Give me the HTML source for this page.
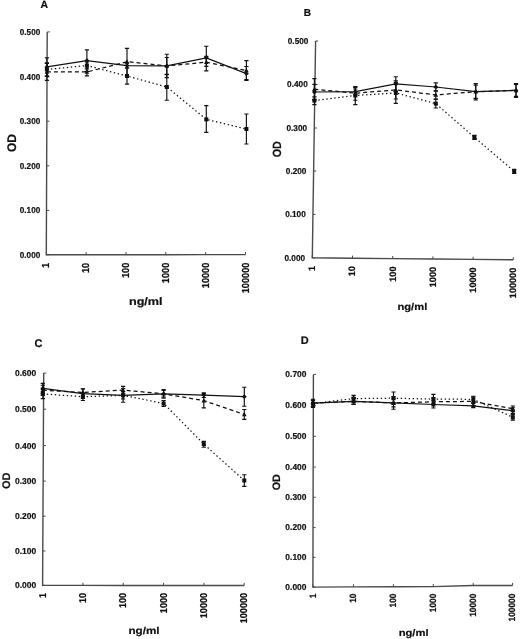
<!DOCTYPE html>
<html><head><meta charset="utf-8"><title>OD vs ng/ml</title>
<style>
html,body{margin:0;padding:0;background:#fff;}
body{width:520px;height:639px;overflow:hidden;}
svg{display:block;font-family:"Liberation Sans", sans-serif;filter:grayscale(1);text-rendering:geometricPrecision;}
svg text{fill:#111;stroke:#111;stroke-width:0.2px;}
</style></head>
<body>
<svg width="520" height="639" viewBox="0 0 520 639">
<rect width="520" height="639" fill="#fff"/>
<g id="pA">
<polyline points="47.2,31.9 46.3,254.8 86.14,254.76 125.98,254.72 165.82,254.68 205.66,254.64 245.5,254.6" fill="none" stroke="#4a4a4a" stroke-width="1.4"/>
<line x1="46.3" y1="254.8" x2="48.9" y2="254.8" stroke="#4a4a4a" stroke-width="1"/>
<text transform="translate(19.79,257.56) scale(0.95,1)" font-size="8.6" font-weight="bold">0.000</text>
<line x1="46.48" y1="210.4" x2="49.08" y2="210.4" stroke="#4a4a4a" stroke-width="1"/>
<text transform="translate(19.79,213.16) scale(0.95,1)" font-size="8.6" font-weight="bold">0.100</text>
<line x1="46.66" y1="165.8" x2="49.26" y2="165.8" stroke="#4a4a4a" stroke-width="1"/>
<text transform="translate(19.79,168.56) scale(0.95,1)" font-size="8.6" font-weight="bold">0.200</text>
<line x1="46.84" y1="121.2" x2="49.44" y2="121.2" stroke="#4a4a4a" stroke-width="1"/>
<text transform="translate(19.79,123.95) scale(0.95,1)" font-size="8.6" font-weight="bold">0.300</text>
<line x1="47.02" y1="76.9" x2="49.62" y2="76.9" stroke="#4a4a4a" stroke-width="1"/>
<text transform="translate(19.79,79.66) scale(0.95,1)" font-size="8.6" font-weight="bold">0.400</text>
<line x1="47.2" y1="31.9" x2="49.8" y2="31.9" stroke="#4a4a4a" stroke-width="1"/>
<text transform="translate(19.79,34.66) scale(0.95,1)" font-size="8.6" font-weight="bold">0.500</text>
<line x1="46.3" y1="254.8" x2="46.3" y2="252.2" stroke="#4a4a4a" stroke-width="1"/>
<text transform="translate(49.41,268.05) rotate(-90) scale(0.9,1)" font-size="10.2" font-weight="bold">1</text>
<line x1="86.14" y1="254.76" x2="86.14" y2="252.16" stroke="#4a4a4a" stroke-width="1"/>
<text transform="translate(89.25,272.99) rotate(-90) scale(0.9,1)" font-size="10.2" font-weight="bold">10</text>
<line x1="125.98" y1="254.72" x2="125.98" y2="252.12" stroke="#4a4a4a" stroke-width="1"/>
<text transform="translate(129.09,278.06) rotate(-90) scale(0.9,1)" font-size="10.2" font-weight="bold">100</text>
<line x1="165.82" y1="254.68" x2="165.82" y2="252.08" stroke="#4a4a4a" stroke-width="1"/>
<text transform="translate(168.93,283.13) rotate(-90) scale(0.9,1)" font-size="10.2" font-weight="bold">1000</text>
<line x1="205.66" y1="254.64" x2="205.66" y2="252.04" stroke="#4a4a4a" stroke-width="1"/>
<text transform="translate(208.77,288.19) rotate(-90) scale(0.9,1)" font-size="10.2" font-weight="bold">10000</text>
<line x1="245.5" y1="254.6" x2="245.5" y2="252" stroke="#4a4a4a" stroke-width="1"/>
<text transform="translate(248.61,293.26) rotate(-90) scale(0.9,1)" font-size="10.2" font-weight="bold">100000</text>
<polyline points="46.9,69.5 86.9,65.5 127,76 166.8,87 206.3,119.4 246.4,129" fill="none" stroke="#111" stroke-width="1.25" stroke-dasharray="1.4 2.6"/>
<polyline points="46.9,71.9 86.9,72 127,61.7 166.8,65.9 206.3,62.2 246.4,70.5" fill="none" stroke="#111" stroke-width="1.25" stroke-dasharray="4 3"/>
<polyline points="46.9,66.9 86.9,60.6 127,65.6 166.8,65.9 206.3,57.8 246.4,73.6" fill="none" stroke="#111" stroke-width="1.25"/>
<path d="M46.9 57.9V75.9M44.8 57.9H49M44.8 75.9H49" stroke="#111" stroke-width="1.15" fill="none"/>
<path d="M86.9 49.9V71.3M84.8 49.9H89M84.8 71.3H89" stroke="#111" stroke-width="1.15" fill="none"/>
<path d="M127 63.2V68M124.9 63.2H129.1M124.9 68H129.1" stroke="#111" stroke-width="1.15" fill="none"/>
<path d="M166.8 57.5V74.3M164.7 57.5H168.9M164.7 74.3H168.9" stroke="#111" stroke-width="1.15" fill="none"/>
<path d="M206.3 46.2V70.8M204.2 46.2H208.4M204.2 70.8H208.4" stroke="#111" stroke-width="1.15" fill="none"/>
<path d="M246.4 66.5V79.6M244.3 66.5H248.5M244.3 79.6H248.5" stroke="#111" stroke-width="1.15" fill="none"/>
<path d="M46.9 63.4V80.4M44.8 63.4H49M44.8 80.4H49" stroke="#111" stroke-width="1.15" fill="none"/>
<path d="M86.9 68V75.9M84.8 68H89M84.8 75.9H89" stroke="#111" stroke-width="1.15" fill="none"/>
<path d="M127 48.4V75M124.9 48.4H129.1M124.9 75H129.1" stroke="#111" stroke-width="1.15" fill="none"/>
<path d="M166.8 54.2V77.6M164.7 54.2H168.9M164.7 77.6H168.9" stroke="#111" stroke-width="1.15" fill="none"/>
<path d="M206.3 56.4V66.4M204.2 56.4H208.4M204.2 66.4H208.4" stroke="#111" stroke-width="1.15" fill="none"/>
<path d="M246.4 60.6V80.4M244.3 60.6H248.5M244.3 80.4H248.5" stroke="#111" stroke-width="1.15" fill="none"/>
<path d="M46.9 62.8V76.5M44.8 62.8H49M44.8 76.5H49" stroke="#111" stroke-width="1.15" fill="none"/>
<path d="M86.9 62V69M84.8 62H89M84.8 69H89" stroke="#111" stroke-width="1.15" fill="none"/>
<path d="M127 68V84.1M124.9 68H129.1M124.9 84.1H129.1" stroke="#111" stroke-width="1.15" fill="none"/>
<path d="M166.8 74.6V100.2M164.7 74.6H168.9M164.7 100.2H168.9" stroke="#111" stroke-width="1.15" fill="none"/>
<path d="M206.3 105.6V132.3M204.2 105.6H208.4M204.2 132.3H208.4" stroke="#111" stroke-width="1.15" fill="none"/>
<path d="M246.4 114V144M244.3 114H248.5M244.3 144H248.5" stroke="#111" stroke-width="1.15" fill="none"/>
<path d="M46.9 64.5L49.3 66.9L46.9 69.3L44.5 66.9Z" fill="#111"/>
<path d="M86.9 58.2L89.3 60.6L86.9 63L84.5 60.6Z" fill="#111"/>
<path d="M127 63.2L129.4 65.6L127 68L124.6 65.6Z" fill="#111"/>
<path d="M166.8 63.5L169.2 65.9L166.8 68.3L164.4 65.9Z" fill="#111"/>
<path d="M206.3 55.4L208.7 57.8L206.3 60.2L203.9 57.8Z" fill="#111"/>
<path d="M246.4 71.2L248.8 73.6L246.4 76L244 73.6Z" fill="#111"/>
<path d="M46.9 69.5L49.2 73.7L44.6 73.7Z" fill="#111"/>
<path d="M86.9 69.6L89.2 73.8L84.6 73.8Z" fill="#111"/>
<path d="M127 59.3L129.3 63.5L124.7 63.5Z" fill="#111"/>
<path d="M166.8 63.5L169.1 67.7L164.5 67.7Z" fill="#111"/>
<path d="M206.3 59.8L208.6 64L204 64Z" fill="#111"/>
<path d="M246.4 68.1L248.7 72.3L244.1 72.3Z" fill="#111"/>
<rect x="44.9" y="67.5" width="4" height="4" fill="#111"/>
<rect x="84.9" y="63.5" width="4" height="4" fill="#111"/>
<rect x="125" y="74" width="4" height="4" fill="#111"/>
<rect x="164.8" y="85" width="4" height="4" fill="#111"/>
<rect x="204.3" y="117.4" width="4" height="4" fill="#111"/>
<rect x="244.4" y="127" width="4" height="4" fill="#111"/>
<text transform="translate(40.6,8.33)" font-size="10.4" font-weight="bold">A</text>
<text transform="translate(15.5,151.99) rotate(-90) scale(0.96,1)" font-size="12.5" font-weight="bold">OD</text>
<text transform="translate(128.92,304.59) scale(1.16,1)" font-size="10.9" font-weight="bold">ng/ml</text>
</g>
<g id="pB">
<polyline points="315.6,41 312.3,257.8 352.5,258.2 392.7,258.6 432.9,259 473.1,259.4 513.3,259.8" fill="none" stroke="#4a4a4a" stroke-width="1.4"/>
<line x1="312.3" y1="257.8" x2="314.9" y2="257.8" stroke="#4a4a4a" stroke-width="1"/>
<text transform="translate(284.48,260.56) scale(0.96,1)" font-size="8.6" font-weight="bold">0.000</text>
<line x1="312.96" y1="214.4" x2="315.56" y2="214.4" stroke="#4a4a4a" stroke-width="1"/>
<text transform="translate(285.14,217.16) scale(0.96,1)" font-size="8.6" font-weight="bold">0.100</text>
<line x1="313.62" y1="171" x2="316.22" y2="171" stroke="#4a4a4a" stroke-width="1"/>
<text transform="translate(285.8,173.76) scale(0.96,1)" font-size="8.6" font-weight="bold">0.200</text>
<line x1="314.28" y1="128" x2="316.88" y2="128" stroke="#4a4a4a" stroke-width="1"/>
<text transform="translate(286.45,130.75) scale(0.96,1)" font-size="8.6" font-weight="bold">0.300</text>
<line x1="314.94" y1="84.6" x2="317.54" y2="84.6" stroke="#4a4a4a" stroke-width="1"/>
<text transform="translate(287.11,87.36) scale(0.96,1)" font-size="8.6" font-weight="bold">0.400</text>
<line x1="315.6" y1="41" x2="318.2" y2="41" stroke="#4a4a4a" stroke-width="1"/>
<text transform="translate(287.78,43.76) scale(0.96,1)" font-size="8.6" font-weight="bold">0.500</text>
<line x1="312.3" y1="257.8" x2="312.3" y2="255.2" stroke="#4a4a4a" stroke-width="1"/>
<text transform="translate(315.13,270.92) rotate(-90) scale(0.97,1)" font-size="9.4" font-weight="bold">1</text>
<line x1="352.5" y1="258.2" x2="352.5" y2="255.6" stroke="#4a4a4a" stroke-width="1"/>
<text transform="translate(355.34,276.27) rotate(-90) scale(0.97,1)" font-size="9.4" font-weight="bold">10</text>
<line x1="392.7" y1="258.6" x2="392.7" y2="256" stroke="#4a4a4a" stroke-width="1"/>
<text transform="translate(395.54,281.74) rotate(-90) scale(0.97,1)" font-size="9.4" font-weight="bold">100</text>
<line x1="432.9" y1="259" x2="432.9" y2="256.4" stroke="#4a4a4a" stroke-width="1"/>
<text transform="translate(435.74,287.21) rotate(-90) scale(0.97,1)" font-size="9.4" font-weight="bold">1000</text>
<line x1="473.1" y1="259.4" x2="473.1" y2="256.8" stroke="#4a4a4a" stroke-width="1"/>
<text transform="translate(475.94,292.68) rotate(-90) scale(0.97,1)" font-size="9.4" font-weight="bold">10000</text>
<line x1="513.3" y1="259.8" x2="513.3" y2="257.2" stroke="#4a4a4a" stroke-width="1"/>
<text transform="translate(516.14,298.15) rotate(-90) scale(0.97,1)" font-size="9.4" font-weight="bold">100000</text>
<polyline points="314.4,100.6 355.3,95.5 395.8,92.9 435.8,103.6 474.4,137.3 514.2,171.3" fill="none" stroke="#111" stroke-width="1.25" stroke-dasharray="1.4 2.6"/>
<polyline points="314.4,89.2 355.3,93.2 395.8,89.9 435.8,94.9 475.7,91.7 516,90.4" fill="none" stroke="#111" stroke-width="1.25" stroke-dasharray="4 3"/>
<polyline points="314.4,92 355.3,91.6 395.8,84 435.8,87 475.7,91.7 516,90.4" fill="none" stroke="#111" stroke-width="1.25"/>
<path d="M314.4 84.4V99.6M312.3 84.4H316.5M312.3 99.6H316.5" stroke="#111" stroke-width="1.15" fill="none"/>
<path d="M355.3 87.3V95.7M353.2 87.3H357.4M353.2 95.7H357.4" stroke="#111" stroke-width="1.15" fill="none"/>
<path d="M395.8 76.7V91.3M393.7 76.7H397.9M393.7 91.3H397.9" stroke="#111" stroke-width="1.15" fill="none"/>
<path d="M435.8 82.9V91.1M433.7 82.9H437.9M433.7 91.1H437.9" stroke="#111" stroke-width="1.15" fill="none"/>
<path d="M475.7 83.6V99.8M473.6 83.6H477.8M473.6 99.8H477.8" stroke="#111" stroke-width="1.15" fill="none"/>
<path d="M516 84.5V96.3M513.9 84.5H518.1M513.9 96.3H518.1" stroke="#111" stroke-width="1.15" fill="none"/>
<path d="M314.4 78.6V99.8M312.3 78.6H316.5M312.3 99.8H316.5" stroke="#111" stroke-width="1.15" fill="none"/>
<path d="M355.3 89V100.2M353.2 89H357.4M353.2 100.2H357.4" stroke="#111" stroke-width="1.15" fill="none"/>
<path d="M395.8 80.8V99M393.7 80.8H397.9M393.7 99H397.9" stroke="#111" stroke-width="1.15" fill="none"/>
<path d="M435.8 90.7V99.1M433.7 90.7H437.9M433.7 99.1H437.9" stroke="#111" stroke-width="1.15" fill="none"/>
<path d="M475.7 85.1V98.3M473.6 85.1H477.8M473.6 98.3H477.8" stroke="#111" stroke-width="1.15" fill="none"/>
<path d="M516 83.5V97.3M513.9 83.5H518.1M513.9 97.3H518.1" stroke="#111" stroke-width="1.15" fill="none"/>
<path d="M314.4 96.8V104.6M312.3 96.8H316.5M312.3 104.6H316.5" stroke="#111" stroke-width="1.15" fill="none"/>
<path d="M355.3 86.5V104.6M353.2 86.5H357.4M353.2 104.6H357.4" stroke="#111" stroke-width="1.15" fill="none"/>
<path d="M395.8 82.5V103.3M393.7 82.5H397.9M393.7 103.3H397.9" stroke="#111" stroke-width="1.15" fill="none"/>
<path d="M435.8 99.2V108M433.7 99.2H437.9M433.7 108H437.9" stroke="#111" stroke-width="1.15" fill="none"/>
<path d="M474.4 135.3V139.3M472.3 135.3H476.5M472.3 139.3H476.5" stroke="#111" stroke-width="1.15" fill="none"/>
<path d="M514.2 169.3V173.3M512.1 169.3H516.3M512.1 173.3H516.3" stroke="#111" stroke-width="1.15" fill="none"/>
<path d="M314.4 89.6L316.8 92L314.4 94.4L312 92Z" fill="#111"/>
<path d="M355.3 89.2L357.7 91.6L355.3 94L352.9 91.6Z" fill="#111"/>
<path d="M395.8 81.6L398.2 84L395.8 86.4L393.4 84Z" fill="#111"/>
<path d="M435.8 84.6L438.2 87L435.8 89.4L433.4 87Z" fill="#111"/>
<path d="M475.7 89.3L478.1 91.7L475.7 94.1L473.3 91.7Z" fill="#111"/>
<path d="M516 88L518.4 90.4L516 92.8L513.6 90.4Z" fill="#111"/>
<path d="M314.4 86.8L316.7 91L312.1 91Z" fill="#111"/>
<path d="M355.3 90.8L357.6 95L353 95Z" fill="#111"/>
<path d="M395.8 87.5L398.1 91.7L393.5 91.7Z" fill="#111"/>
<path d="M435.8 92.5L438.1 96.7L433.5 96.7Z" fill="#111"/>
<path d="M475.7 89.3L478 93.5L473.4 93.5Z" fill="#111"/>
<path d="M516 88L518.3 92.2L513.7 92.2Z" fill="#111"/>
<rect x="312.4" y="98.6" width="4" height="4" fill="#111"/>
<rect x="353.3" y="93.5" width="4" height="4" fill="#111"/>
<rect x="393.8" y="90.9" width="4" height="4" fill="#111"/>
<rect x="433.8" y="101.6" width="4" height="4" fill="#111"/>
<rect x="472.4" y="135.3" width="4" height="4" fill="#111"/>
<rect x="512.2" y="169.3" width="4" height="4" fill="#111"/>
<text transform="translate(303.69,15.77)" font-size="10.1" font-weight="bold">B</text>
<text transform="translate(281.3,157.28) rotate(-90) scale(0.9,1)" font-size="11.9" font-weight="bold">OD</text>
<text transform="translate(397.48,309.51) scale(1.14,1)" font-size="9.8" font-weight="bold">ng/ml</text>
</g>
<g id="pC">
<polyline points="43.7,373.1 42.6,585.4 82.92,585.42 123.24,585.44 163.56,585.46 203.88,585.48 244.2,585.5" fill="none" stroke="#4a4a4a" stroke-width="1.4"/>
<line x1="42.6" y1="585.4" x2="45.2" y2="585.4" stroke="#4a4a4a" stroke-width="1"/>
<text transform="translate(14.94,588.46) scale(0.99,1)" font-size="8.6" font-weight="bold">0.000</text>
<line x1="42.78" y1="551" x2="45.38" y2="551" stroke="#4a4a4a" stroke-width="1"/>
<text transform="translate(14.94,554.06) scale(0.99,1)" font-size="8.6" font-weight="bold">0.100</text>
<line x1="42.96" y1="516.2" x2="45.56" y2="516.2" stroke="#4a4a4a" stroke-width="1"/>
<text transform="translate(14.94,519.26) scale(0.99,1)" font-size="8.6" font-weight="bold">0.200</text>
<line x1="43.14" y1="481.1" x2="45.74" y2="481.1" stroke="#4a4a4a" stroke-width="1"/>
<text transform="translate(14.94,484.15) scale(0.99,1)" font-size="8.6" font-weight="bold">0.300</text>
<line x1="43.32" y1="445.5" x2="45.92" y2="445.5" stroke="#4a4a4a" stroke-width="1"/>
<text transform="translate(14.94,448.56) scale(0.99,1)" font-size="8.6" font-weight="bold">0.400</text>
<line x1="43.51" y1="409.2" x2="46.11" y2="409.2" stroke="#4a4a4a" stroke-width="1"/>
<text transform="translate(14.94,412.26) scale(0.99,1)" font-size="8.6" font-weight="bold">0.500</text>
<line x1="43.7" y1="373.1" x2="46.3" y2="373.1" stroke="#4a4a4a" stroke-width="1"/>
<text transform="translate(14.94,376.16) scale(0.99,1)" font-size="8.6" font-weight="bold">0.600</text>
<line x1="42.6" y1="585.4" x2="42.6" y2="582.8" stroke="#4a4a4a" stroke-width="1"/>
<text transform="translate(45.64,598.01) rotate(-90) scale(0.91,1)" font-size="10" font-weight="bold">1</text>
<line x1="82.92" y1="585.42" x2="82.92" y2="582.82" stroke="#4a4a4a" stroke-width="1"/>
<text transform="translate(85.96,602.97) rotate(-90) scale(0.91,1)" font-size="10" font-weight="bold">10</text>
<line x1="123.24" y1="585.44" x2="123.24" y2="582.84" stroke="#4a4a4a" stroke-width="1"/>
<text transform="translate(126.28,608.05) rotate(-90) scale(0.91,1)" font-size="10" font-weight="bold">100</text>
<line x1="163.56" y1="585.46" x2="163.56" y2="582.86" stroke="#4a4a4a" stroke-width="1"/>
<text transform="translate(166.6,613.13) rotate(-90) scale(0.91,1)" font-size="10" font-weight="bold">1000</text>
<line x1="203.88" y1="585.48" x2="203.88" y2="582.88" stroke="#4a4a4a" stroke-width="1"/>
<text transform="translate(206.92,618.21) rotate(-90) scale(0.91,1)" font-size="10" font-weight="bold">10000</text>
<line x1="244.2" y1="585.5" x2="244.2" y2="582.9" stroke="#4a4a4a" stroke-width="1"/>
<text transform="translate(247.24,623.29) rotate(-90) scale(0.91,1)" font-size="10" font-weight="bold">100000</text>
<polyline points="42.8,393.9 82.9,396.7 123.1,395.4 163.6,403.4 203.8,444.1 244.3,480.5" fill="none" stroke="#111" stroke-width="1.25" stroke-dasharray="1.4 2.6"/>
<polyline points="42.8,390.2 82.9,392.5 123.1,390.1 163.6,393.8 203.8,400.6 244.3,414.5" fill="none" stroke="#111" stroke-width="1.25" stroke-dasharray="4 3"/>
<polyline points="42.8,388.3 82.9,393.6 123.1,395.4 163.6,393.8 203.8,395.1 244.3,396.7" fill="none" stroke="#111" stroke-width="1.25"/>
<path d="M42.8 383.3V393.3M40.7 383.3H44.9M40.7 393.3H44.9" stroke="#111" stroke-width="1.15" fill="none"/>
<path d="M82.9 388.7V398.5M80.8 388.7H85M80.8 398.5H85" stroke="#111" stroke-width="1.15" fill="none"/>
<path d="M123.1 391.8V399M121 391.8H125.2M121 399H125.2" stroke="#111" stroke-width="1.15" fill="none"/>
<path d="M163.6 389.5V398.1M161.5 389.5H165.7M161.5 398.1H165.7" stroke="#111" stroke-width="1.15" fill="none"/>
<path d="M203.8 392.7V397.5M201.7 392.7H205.9M201.7 397.5H205.9" stroke="#111" stroke-width="1.15" fill="none"/>
<path d="M244.3 387.2V406.2M242.2 387.2H246.4M242.2 406.2H246.4" stroke="#111" stroke-width="1.15" fill="none"/>
<path d="M42.8 385.2V395.2M40.7 385.2H44.9M40.7 395.2H44.9" stroke="#111" stroke-width="1.15" fill="none"/>
<path d="M82.9 389V396M80.8 389H85M80.8 396H85" stroke="#111" stroke-width="1.15" fill="none"/>
<path d="M123.1 386.4V393.8M121 386.4H125.2M121 393.8H125.2" stroke="#111" stroke-width="1.15" fill="none"/>
<path d="M163.6 390.5V397M161.5 390.5H165.7M161.5 397H165.7" stroke="#111" stroke-width="1.15" fill="none"/>
<path d="M203.8 393.6V407.8M201.7 393.6H205.9M201.7 407.8H205.9" stroke="#111" stroke-width="1.15" fill="none"/>
<path d="M244.3 409.5V419.4M242.2 409.5H246.4M242.2 419.4H246.4" stroke="#111" stroke-width="1.15" fill="none"/>
<path d="M42.8 389.5V398.6M40.7 389.5H44.9M40.7 398.6H44.9" stroke="#111" stroke-width="1.15" fill="none"/>
<path d="M82.9 393V400.5M80.8 393H85M80.8 400.5H85" stroke="#111" stroke-width="1.15" fill="none"/>
<path d="M123.1 388.6V402.2M121 388.6H125.2M121 402.2H125.2" stroke="#111" stroke-width="1.15" fill="none"/>
<path d="M163.6 400.5V406.3M161.5 400.5H165.7M161.5 406.3H165.7" stroke="#111" stroke-width="1.15" fill="none"/>
<path d="M203.8 441.4V447.2M201.7 441.4H205.9M201.7 447.2H205.9" stroke="#111" stroke-width="1.15" fill="none"/>
<path d="M244.3 474.7V486.3M242.2 474.7H246.4M242.2 486.3H246.4" stroke="#111" stroke-width="1.15" fill="none"/>
<path d="M42.8 385.9L45.2 388.3L42.8 390.7L40.4 388.3Z" fill="#111"/>
<path d="M82.9 391.2L85.3 393.6L82.9 396L80.5 393.6Z" fill="#111"/>
<path d="M123.1 393L125.5 395.4L123.1 397.8L120.7 395.4Z" fill="#111"/>
<path d="M163.6 391.4L166 393.8L163.6 396.2L161.2 393.8Z" fill="#111"/>
<path d="M203.8 392.7L206.2 395.1L203.8 397.5L201.4 395.1Z" fill="#111"/>
<path d="M244.3 394.3L246.7 396.7L244.3 399.1L241.9 396.7Z" fill="#111"/>
<path d="M42.8 387.8L45.1 392L40.5 392Z" fill="#111"/>
<path d="M82.9 390.1L85.2 394.3L80.6 394.3Z" fill="#111"/>
<path d="M123.1 387.7L125.4 391.9L120.8 391.9Z" fill="#111"/>
<path d="M163.6 391.4L165.9 395.6L161.3 395.6Z" fill="#111"/>
<path d="M203.8 398.2L206.1 402.4L201.5 402.4Z" fill="#111"/>
<path d="M244.3 412.1L246.6 416.3L242 416.3Z" fill="#111"/>
<rect x="40.8" y="391.9" width="4" height="4" fill="#111"/>
<rect x="80.9" y="394.7" width="4" height="4" fill="#111"/>
<rect x="121.1" y="393.4" width="4" height="4" fill="#111"/>
<rect x="161.6" y="401.4" width="4" height="4" fill="#111"/>
<rect x="201.8" y="442.1" width="4" height="4" fill="#111"/>
<rect x="242.3" y="478.5" width="4" height="4" fill="#111"/>
<text transform="translate(34.45,346.59)" font-size="11" font-weight="bold">C</text>
<text transform="translate(9.94,489.04) rotate(-90)" font-size="11" font-weight="bold">OD</text>
<text transform="translate(128.4,634.36) scale(1.17,1)" font-size="10" font-weight="bold">ng/ml</text>
</g>
<g id="pD">
<polyline points="313.4,374.4 312.9,587.1 353.5,586.9 393.4,586.8 433.3,586.6 473.2,585.5 512.6,585.5" fill="none" stroke="#4a4a4a" stroke-width="1.4"/>
<line x1="312.9" y1="587.1" x2="315.5" y2="587.1" stroke="#4a4a4a" stroke-width="1"/>
<text transform="translate(285.36,589.86) scale(0.98,1)" font-size="8.6" font-weight="bold">0.000</text>
<line x1="312.97" y1="557.3" x2="315.57" y2="557.3" stroke="#4a4a4a" stroke-width="1"/>
<text transform="translate(285.36,560.06) scale(0.98,1)" font-size="8.6" font-weight="bold">0.100</text>
<line x1="313.04" y1="527.6" x2="315.64" y2="527.6" stroke="#4a4a4a" stroke-width="1"/>
<text transform="translate(285.36,530.36) scale(0.98,1)" font-size="8.6" font-weight="bold">0.200</text>
<line x1="313.11" y1="497.3" x2="315.71" y2="497.3" stroke="#4a4a4a" stroke-width="1"/>
<text transform="translate(285.36,500.05) scale(0.98,1)" font-size="8.6" font-weight="bold">0.300</text>
<line x1="313.18" y1="467.1" x2="315.78" y2="467.1" stroke="#4a4a4a" stroke-width="1"/>
<text transform="translate(285.36,469.86) scale(0.98,1)" font-size="8.6" font-weight="bold">0.400</text>
<line x1="313.25" y1="436.3" x2="315.85" y2="436.3" stroke="#4a4a4a" stroke-width="1"/>
<text transform="translate(285.36,439.06) scale(0.98,1)" font-size="8.6" font-weight="bold">0.500</text>
<line x1="313.33" y1="405.3" x2="315.93" y2="405.3" stroke="#4a4a4a" stroke-width="1"/>
<text transform="translate(285.36,408.06) scale(0.98,1)" font-size="8.6" font-weight="bold">0.600</text>
<line x1="313.4" y1="374.4" x2="316" y2="374.4" stroke="#4a4a4a" stroke-width="1"/>
<text transform="translate(285.36,377.16) scale(0.98,1)" font-size="8.6" font-weight="bold">0.700</text>
<line x1="312.9" y1="587.1" x2="312.9" y2="584.5" stroke="#4a4a4a" stroke-width="1"/>
<text transform="translate(315.66,598.32) rotate(-90) scale(0.91,1)" font-size="9.2" font-weight="bold">1</text>
<line x1="353.5" y1="586.9" x2="353.5" y2="584.3" stroke="#4a4a4a" stroke-width="1"/>
<text transform="translate(356.27,602.87) rotate(-90) scale(0.91,1)" font-size="9.2" font-weight="bold">10</text>
<line x1="393.4" y1="586.8" x2="393.4" y2="584.2" stroke="#4a4a4a" stroke-width="1"/>
<text transform="translate(396.17,607.52) rotate(-90) scale(0.91,1)" font-size="9.2" font-weight="bold">100</text>
<line x1="433.3" y1="586.6" x2="433.3" y2="584" stroke="#4a4a4a" stroke-width="1"/>
<text transform="translate(436.07,612.18) rotate(-90) scale(0.91,1)" font-size="9.2" font-weight="bold">1000</text>
<line x1="473.2" y1="585.5" x2="473.2" y2="582.9" stroke="#4a4a4a" stroke-width="1"/>
<text transform="translate(475.97,616.84) rotate(-90) scale(0.91,1)" font-size="9.2" font-weight="bold">10000</text>
<line x1="512.6" y1="585.5" x2="512.6" y2="582.9" stroke="#4a4a4a" stroke-width="1"/>
<text transform="translate(515.37,621.49) rotate(-90) scale(0.91,1)" font-size="9.2" font-weight="bold">100000</text>
<polyline points="313,403.5 353.6,398.6 393.5,398.2 433.4,399.1 473.3,399.3 512.8,417.2" fill="none" stroke="#111" stroke-width="1.25" stroke-dasharray="1.4 2.6"/>
<polyline points="313,403 353.6,401.4 393.5,402.9 433.4,401.8 473.3,401.4 512.8,408.8" fill="none" stroke="#111" stroke-width="1.25" stroke-dasharray="4 3"/>
<polyline points="313,403.2 353.6,401.4 393.5,402.9 433.4,404.5 473.3,405.8 512.8,410.6" fill="none" stroke="#111" stroke-width="1.25"/>
<path d="M313 399.2V407.3M310.9 399.2H315.1M310.9 407.3H315.1" stroke="#111" stroke-width="1.15" fill="none"/>
<path d="M353.6 397.5V404.3M351.5 397.5H355.7M351.5 404.3H355.7" stroke="#111" stroke-width="1.15" fill="none"/>
<path d="M393.5 396.6V409.2M391.4 396.6H395.6M391.4 409.2H395.6" stroke="#111" stroke-width="1.15" fill="none"/>
<path d="M433.4 401V408M431.3 401H435.5M431.3 408H435.5" stroke="#111" stroke-width="1.15" fill="none"/>
<path d="M473.3 403.5V407.6M471.2 403.5H475.4M471.2 407.6H475.4" stroke="#111" stroke-width="1.15" fill="none"/>
<path d="M512.8 407.7V413.5M510.7 407.7H514.9M510.7 413.5H514.9" stroke="#111" stroke-width="1.15" fill="none"/>
<path d="M313 400V406M310.9 400H315.1M310.9 406H315.1" stroke="#111" stroke-width="1.15" fill="none"/>
<path d="M353.6 398.5V404.3M351.5 398.5H355.7M351.5 404.3H355.7" stroke="#111" stroke-width="1.15" fill="none"/>
<path d="M393.5 399V406.8M391.4 399H395.6M391.4 406.8H395.6" stroke="#111" stroke-width="1.15" fill="none"/>
<path d="M433.4 397.8V405.8M431.3 397.8H435.5M431.3 405.8H435.5" stroke="#111" stroke-width="1.15" fill="none"/>
<path d="M473.3 397V405.8M471.2 397H475.4M471.2 405.8H475.4" stroke="#111" stroke-width="1.15" fill="none"/>
<path d="M512.8 406V411.6M510.7 406H514.9M510.7 411.6H514.9" stroke="#111" stroke-width="1.15" fill="none"/>
<path d="M313 400.5V406.5M310.9 400.5H315.1M310.9 406.5H315.1" stroke="#111" stroke-width="1.15" fill="none"/>
<path d="M353.6 395.4V401.8M351.5 395.4H355.7M351.5 401.8H355.7" stroke="#111" stroke-width="1.15" fill="none"/>
<path d="M393.5 392V404.4M391.4 392H395.6M391.4 404.4H395.6" stroke="#111" stroke-width="1.15" fill="none"/>
<path d="M433.4 394.4V403.8M431.3 394.4H435.5M431.3 403.8H435.5" stroke="#111" stroke-width="1.15" fill="none"/>
<path d="M473.3 396.2V402.4M471.2 396.2H475.4M471.2 402.4H475.4" stroke="#111" stroke-width="1.15" fill="none"/>
<path d="M512.8 414.3V420.1M510.7 414.3H514.9M510.7 420.1H514.9" stroke="#111" stroke-width="1.15" fill="none"/>
<path d="M313 400.8L315.4 403.2L313 405.6L310.6 403.2Z" fill="#111"/>
<path d="M353.6 399L356 401.4L353.6 403.8L351.2 401.4Z" fill="#111"/>
<path d="M393.5 400.5L395.9 402.9L393.5 405.3L391.1 402.9Z" fill="#111"/>
<path d="M433.4 402.1L435.8 404.5L433.4 406.9L431 404.5Z" fill="#111"/>
<path d="M473.3 403.4L475.7 405.8L473.3 408.2L470.9 405.8Z" fill="#111"/>
<path d="M512.8 408.2L515.2 410.6L512.8 413L510.4 410.6Z" fill="#111"/>
<path d="M313 400.6L315.3 404.8L310.7 404.8Z" fill="#111"/>
<path d="M353.6 399L355.9 403.2L351.3 403.2Z" fill="#111"/>
<path d="M393.5 400.5L395.8 404.7L391.2 404.7Z" fill="#111"/>
<path d="M433.4 399.4L435.7 403.6L431.1 403.6Z" fill="#111"/>
<path d="M473.3 399L475.6 403.2L471 403.2Z" fill="#111"/>
<path d="M512.8 406.4L515.1 410.6L510.5 410.6Z" fill="#111"/>
<rect x="311" y="401.5" width="4" height="4" fill="#111"/>
<rect x="351.6" y="396.6" width="4" height="4" fill="#111"/>
<rect x="391.5" y="396.2" width="4" height="4" fill="#111"/>
<rect x="431.4" y="397.1" width="4" height="4" fill="#111"/>
<rect x="471.3" y="397.3" width="4" height="4" fill="#111"/>
<rect x="510.8" y="415.2" width="4" height="4" fill="#111"/>
<text transform="translate(300.64,343.68)" font-size="11" font-weight="bold">D</text>
<text transform="translate(280.12,490.29) rotate(-90)" font-size="10.8" font-weight="bold">OD</text>
<text transform="translate(398.63,636.39) scale(1.16,1)" font-size="9.7" font-weight="bold">ng/ml</text>
</g>
</svg>
</body></html>
